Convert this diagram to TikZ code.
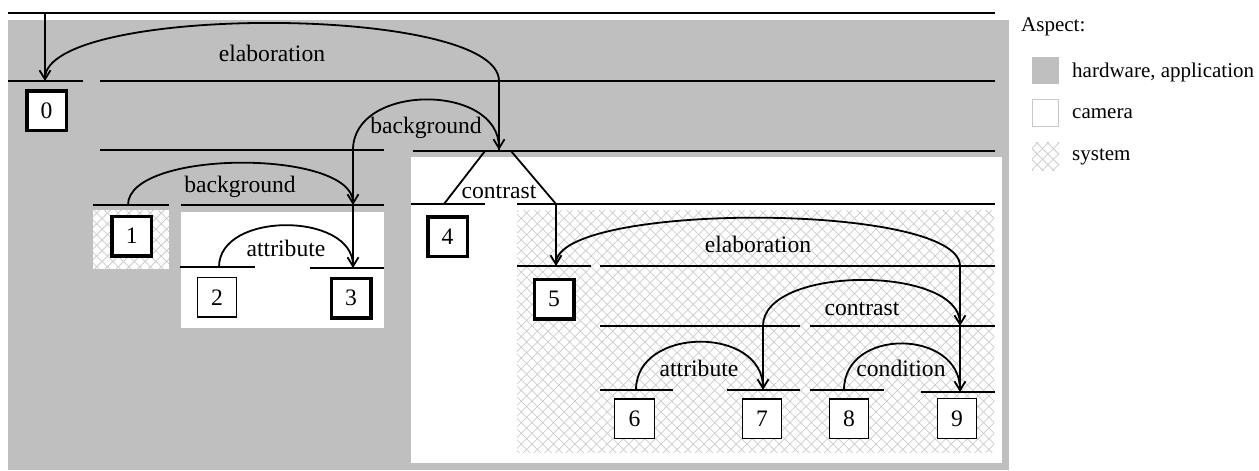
\documentclass[tikz,border=0pt]{standalone}
\usepackage{fontspec}
\setmainfont{Liberation Serif}
\usetikzlibrary{arrows.meta,patterns.meta}
\definecolor{aspectgrey}{RGB}{191,191,191}
\definecolor{hatchgrey}{RGB}{204,204,204}
\definecolor{keyframe}{RGB}{200,200,200}
\newcommand\rstfont{\fontsize{23.6}{28}\selectfont}
\newcommand\keyfont{\fontsize{21}{25}\selectfont}
\tikzset{
  spanline/.style={line width=1.3pt},
  link/.style={line width=1.8pt},
  rel/.style={line width=1.8pt,-{Straight Barb[length=9pt,width=11pt,line width=1.8pt]}},
  edu/.style={draw,fill=white,line width=1.2pt,minimum width=39.5pt,minimum height=39.5pt,inner sep=0pt,font=\rstfont},
  nucleus/.style={edu,line width=3.5pt},
  rlabel/.style={anchor=base,inner sep=0pt,font=\rstfont},
  keytext/.style={anchor=base west,inner sep=0pt,font=\keyfont},
  hatch/.style={fill=white,
    postaction={pattern={Lines[angle=45,distance=7.6pt,line width=.75pt]},pattern color=hatchgrey},
    postaction={pattern={Lines[angle=-45,distance=7.6pt,line width=.75pt]},pattern color=hatchgrey}},
}
\begin{document}
\begin{tikzpicture}[x=1pt,y=-1pt]
\useasboundingbox (0,0) rectangle (1259,471);

% aspect regions
\fill[aspectgrey] (8,20) rectangle (1009,470);
\fill[white] (411,157) rectangle (1002,463);
\fill[white] (181,212) rectangle (384,328);
\path[hatch] (93,210) rectangle (169,269);
\path[hatch] (517,210) rectangle (994,452);

% span lines
\draw[spanline] (8,13) -- (995,13);
\draw[spanline] (8,81) -- (83,81);
\draw[spanline] (100,81) -- (995,81);
\draw[spanline] (100,150) -- (384,150);
\draw[spanline] (413,151) -- (995,151);
\draw[spanline] (93,205) -- (169,205);
\draw[spanline] (181,205) -- (384,205);
\draw[spanline] (180,267) -- (255,267);
\draw[spanline] (310,268) -- (384,268);
\draw[spanline] (411,204) -- (485,204);
\draw[spanline] (517,204) -- (995,204);
\draw[spanline] (517,266) -- (591,266);
\draw[spanline] (600,266) -- (995,266);
\draw[spanline] (600,326) -- (800,326);
\draw[spanline] (810,326) -- (995,326);
\draw[spanline] (600,390) -- (673,390);
\draw[spanline] (727,390) -- (800,390);
\draw[spanline] (810,390) -- (884,390);
\draw[spanline] (921,392) -- (995,392);

% attachment points
\coordinate (t0) at (45,13);
\coordinate (a0) at (45,81);
\coordinate (s19) at (499,81);
\coordinate (s49) at (499,150);
\coordinate (s13) at (353,150);
\coordinate (s23) at (353,205);
\coordinate (a1) at (128,205);
\coordinate (a2) at (219,267);
\coordinate (a3) at (353,268);
\coordinate (cl) at (485,151);
\coordinate (cr) at (511,151);
\coordinate (a4) at (444,204);
\coordinate (s59) at (556,204);
\coordinate (a5) at (556,266);
\coordinate (s69) at (960,266);
\coordinate (s67) at (763,326);
\coordinate (s89) at (960,326);
\coordinate (a6) at (636,390);
\coordinate (a7) at (763,390);
\coordinate (a8) at (844,390);
\coordinate (a9) at (960,392);

% spans down to their nuclei
\draw[link] (t0) -- (a0);
\draw[link] (s19) -- (s49);
\draw[link] (s13) -- (a3);
\draw[link] (s59) -- (a5);
\draw[link] (s69) -- (a9);
\draw[link] (s67) -- (a7);
\draw[link] (a4) -- (cl);
\draw[link] (cr) -- (s59);

% relations
\draw[rel] (s19) .. controls +(0,-77) and +(0,-77) .. (a0);
\draw[rel] (s13) .. controls +(0,-67) and +(0,-67) .. (s49);
\draw[rel] (a1) .. controls +(0,-56) and +(0,-56) .. (s23);
\draw[rel] (a2) .. controls +(0,-56) and +(0,-56) .. (a3);
\draw[rel] (s69) .. controls +(0,-64) and +(0,-64) .. (a5);
\draw[rel] (s67) .. controls +(0,-61) and +(0,-61) .. (s89);
\draw[rel] (a6) .. controls +(0,-64) and +(0,-64) .. (a7);
\draw[rel] (a8) .. controls +(0,-63) and +(0,-63) .. (a9);

% relation names
\node[rlabel] (l1) at (272,61) {elaboration};
\node[rlabel] (l2) at (426,133) {background};
\node[rlabel] (l3) at (499,198) {contrast};
\node[rlabel] (l4) at (240,192) {background};
\node[rlabel] (l5) at (286,256.5) {attribute};
\node[rlabel] (l6) at (758,252.5) {elaboration};
\node[rlabel] (l7) at (862,315) {contrast};
\node[rlabel] (l8) at (699,376) {attribute};
\node[rlabel] (l9) at (901,376.5) {condition};

% elementary units
\node[nucleus] (n0) at (46.5,110.5) {0};
\node[nucleus] (n1) at (131.7,236) {1};
\node[edu] (n2) at (217,297.3) {2};
\node[nucleus] (n3) at (351,298) {3};
\node[nucleus] (n4) at (447.5,236.7) {4};
\node[nucleus] (n5) at (554,299.2) {5};
\node[edu] (n6) at (634.5,418.8) {6};
\node[edu] (n7) at (762,418.7) {7};
\node[edu] (n8) at (849,418.7) {8};
\node[edu] (n9) at (957,418.5) {9};

% key
\node[keytext] (kt) at (1021,31) {Aspect:};
\fill[aspectgrey] (1032,57) rectangle (1059,84);
\node[keytext] (k1) at (1072,77) {hardware, application};
\draw[keyframe,line width=1pt] (1032.5,99.5) rectangle (1058.5,126.5);
\node[keytext] (k2) at (1072,118) {camera};
\path[hatch] (1032,142) rectangle (1059,170);
\node[keytext] (k3) at (1072,160) {system};
\end{tikzpicture}
\end{document}
